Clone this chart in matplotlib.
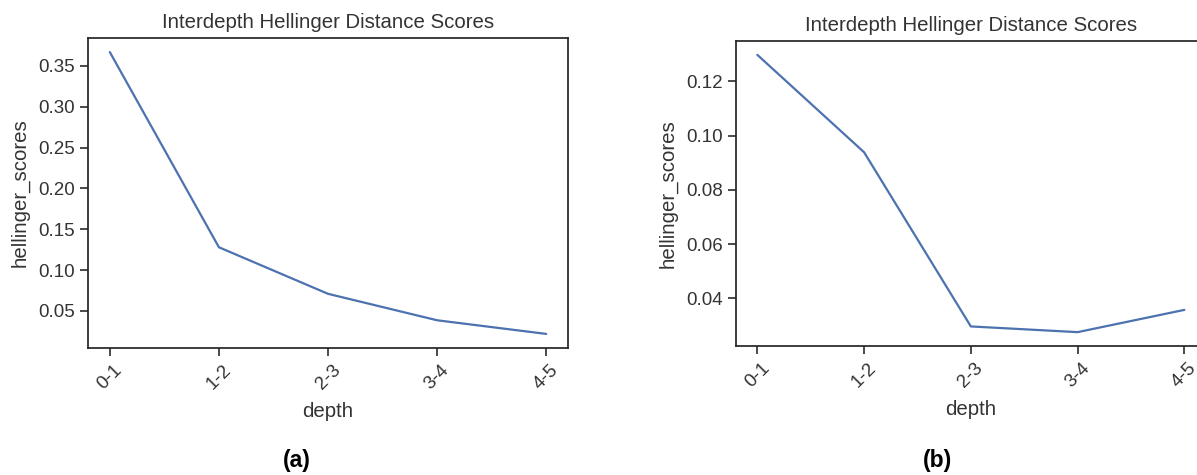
import matplotlib
matplotlib.use("Agg")
import matplotlib.pyplot as plt
import seaborn as sns

sns.set_theme(style="ticks")
plt.rcParams['font.family'] = ['Liberation Sans', 'DejaVu Sans']

depth = ["0-1", "1-2", "2-3", "3-4", "4-5"]
scores_a = [0.367, 0.128, 0.071, 0.0386, 0.0219]
scores_b = [0.1298, 0.0939, 0.0297, 0.0276, 0.0358]

W, H = 1197, 475
fig = plt.figure(figsize=(W / 100, H / 100), dpi=100)

def rect(x0, y0, x1, y1):
    return [x0 / W, 1 - y1 / H, (x1 - x0) / W, (y1 - y0) / H]

ax1 = fig.add_axes(rect(88, 38, 568, 348))
ax2 = fig.add_axes(rect(736, 41, 1205.7, 346))

line_color = "#4c72b0"
text_color = "#333333"
for ax, vals in [(ax1, scores_a), (ax2, scores_b)]:
    ax.plot(depth, vals, color=line_color, linewidth=1.6)
    ax.set_title("Interdepth Hellinger Distance Scores", fontsize=14.7, color=text_color, pad=7)
    ax.set_xlabel("depth", fontsize=14.7, color=text_color, labelpad=7)
    ax.set_ylabel("hellinger_scores", fontsize=14.7, color=text_color, labelpad=6)
    ax.tick_params(axis="x", labelrotation=45, labelsize=13.5, colors=text_color)
    ax.tick_params(axis="y", labelsize=13.5, colors=text_color)
    for s in ax.spines.values():
        s.set_color("#262626")

ax1.set_yticks([0.05, 0.10, 0.15, 0.20, 0.25, 0.30, 0.35])
ax2.set_yticks([0.04, 0.06, 0.08, 0.10, 0.12])

fig.text(297 / W, 1 - 461 / H, "(a)", ha="center", va="center", fontsize=16.5, fontweight="bold", color="black")
fig.text(938 / W, 1 - 461 / H, "(b)", ha="center", va="center", fontsize=16.5, fontweight="bold", color="black")

fig.savefig("out.png", dpi=100)
